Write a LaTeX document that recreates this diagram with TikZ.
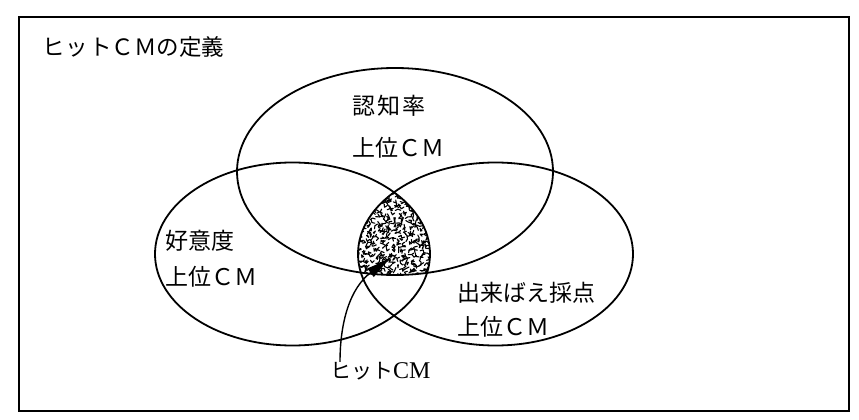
\documentclass[tikz,border=0pt]{standalone}
\usepackage{fontspec}
\setmainfont{Liberation Serif}
\newfontfamily\cjk{Noto Sans CJK JP}
\usetikzlibrary{shapes.geometric,arrows.meta}
\begin{document}
\begin{tikzpicture}[x=1pt,y=-1pt,
  venn/.style={ellipse, draw, line width=1.8pt, inner sep=0pt, outer sep=0pt},
  lbl/.style={anchor=west, inner sep=0pt, font=\cjk\fontsize{23}{27}\selectfont},
  squig/.style={line width=1.1pt, line cap=round, line join=round},
  framebox/.style={draw, line width=1.6pt, inner sep=0pt, anchor=north west}]
\useasboundingbox (0,0) rectangle (859,420);
\fill[white] (0,0) rectangle (859,420);
\node[framebox, minimum width=830pt, minimum height=394pt] (frame) at (18,16) {};
% shaded intersection
\begin{scope}
  \clip (395,171.5) ellipse [x radius=158pt, y radius=103.5pt];
  \clip (292.5,254) ellipse [x radius=137.5pt, y radius=91.5pt];
  \clip (495.5,254) ellipse [x radius=137.5pt, y radius=91.5pt];
  \pgfmathsetseed{7}
  \foreach \x in {350,354,...,442} {
    \foreach \y in {184,188,...,284} {
      \draw[squig] (\x+2*rand,\y+2*rand) -- ++(rnd*360:3) -- ++(rnd*360:3);
    }
  }
\end{scope}
% ellipses
\node[venn, minimum width=316pt, minimum height=207pt] (top) at (395,171.5) {};
\node[venn, minimum width=275pt, minimum height=183pt] (left) at (292.5,254) {};
\node[venn, minimum width=275pt, minimum height=183pt] (right) at (495.5,254) {};
% labels
\node[lbl, font=\cjk\fontsize{22.5}{26}\selectfont] (title) at (42,47) {ヒ\hspace{1pt}ッ\hspace{1pt}トＣＭの定義};
\node[lbl] (t1) at (352,106) {認\hspace{2pt}知\hspace{2pt}率};
\node[lbl] (t2) at (352,148) {上位ＣＭ};
\node[lbl] (l1) at (165,241) {好意度};
\node[lbl] (l2) at (165,277) {上位ＣＭ};
\node[lbl] (r1) at (457,293) {出来ばえ採点};
\node[lbl] (r2) at (457,327) {上位ＣＭ};
\node[lbl, font=\fontsize{24}{27}\selectfont] (hit) at (330,371) {{\cjk\fontsize{21}{24}\selectfont ヒット}CM};
% pointer
\coordinate (tip) at (393,256);
\draw[line width=1.4pt, -{Latex[length=28pt,width=11pt]}] ([xshift=10pt]hit.north west) .. controls +(0,-40) and (350,288) .. (tip);
\end{tikzpicture}
\end{document}
